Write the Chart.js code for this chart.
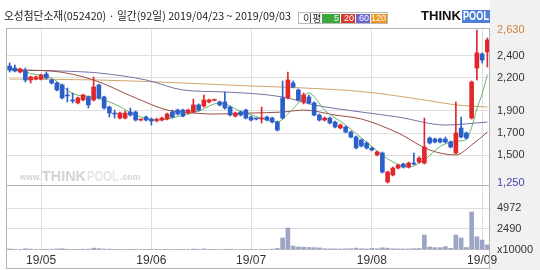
<!DOCTYPE html>
<html>
<head>
<meta charset="utf-8">
<script src="https://cdn.jsdelivr.net/npm/chart.js@4.4.0/dist/chart.umd.min.js"></script>
<style>
  html, body { margin: 0; padding: 0; background: #fff; }
  #stock { display: block; }
</style>
</head>
<body>
<canvas id="stock" width="540" height="270"></canvas>
<script>
// trading days 2019/04/23 ~ 2019/09/03 (92)
const dates = ['04/23','04/24','04/25','04/26','04/29','04/30',
  '05/02','05/03','05/07','05/08','05/09','05/10','05/13','05/14','05/15','05/16','05/17','05/20','05/21','05/22','05/23','05/24','05/27','05/28','05/29','05/30','05/31',
  '06/03','06/04','06/05','06/07','06/10','06/11','06/12','06/13','06/14','06/17','06/18','06/19','06/20','06/21','06/24','06/25','06/26','06/27','06/28',
  '07/01','07/02','07/03','07/04','07/05','07/08','07/09','07/10','07/11','07/12','07/15','07/16','07/17','07/18','07/19','07/22','07/23','07/24','07/25','07/26','07/29','07/30','07/31',
  '08/01','08/02','08/05','08/06','08/07','08/08','08/09','08/12','08/13','08/14','08/16','08/19','08/20','08/21','08/22','08/23','08/26','08/27','08/28','08/29','08/30',
  '09/02','09/03'];

const openP = [2305,2287,2251,2260,2179,2188,2188,2233,2179,2152,
  2134,2044,1999,1972,1999,2026,1999,2134,2026,1935,
  1876,1836,1836,1890,1890,1818,1845,1827,1814,1818,
  1827,1890,1908,1908,1881,1890,1954,1944,1981,1995,
  1981,1981,1935,1854,1890,1908,1845,1831,1827,1845,
  1836,1800,2017,2017,2152,2089,1981,2026,1972,1863,
  1818,1836,1800,1746,1755,1710,1665,1638,1611,1566,
  1503,1521,1259,1322,1385,1421,1394,1430,1439,1430,
  1656,1647,1647,1647,1620,1521,1746,1701,1836,2287,
  2414,2432];
const highP = [2332,2314,2287,2287,2215,2215,2233,2251,2188,2161,
  2143,2107,2062,2026,2053,2035,2206,2143,2035,1944,
  1908,1890,1899,1926,1899,1827,1854,1836,1836,1845,
  1881,1908,1917,1917,1917,2008,1963,2044,2008,2008,
  1990,2071,1944,1890,1899,1917,1854,1836,1935,1854,
  1845,1809,2170,2251,2170,2098,2062,2044,1981,1872,
  1845,1845,1809,1782,1764,1719,1674,1647,1620,1575,
  1539,1530,1358,1394,1421,1430,1439,1521,1485,1836,
  1665,1656,1656,1665,1629,1981,1845,1710,2170,2630,
  2423,2558];
const lowP = [2251,2251,2242,2161,2152,2179,2179,2188,2143,2080,
  2008,1981,1972,1963,1990,1926,1990,2008,1917,1845,
  1836,1827,1827,1854,1809,1809,1809,1773,1800,1809,
  1818,1836,1863,1845,1872,1881,1899,1935,1972,1990,
  1944,1917,1854,1845,1854,1827,1809,1818,1791,1809,
  1791,1719,1827,2008,2107,1990,1963,1963,1854,1809,
  1809,1782,1746,1737,1701,1656,1557,1575,1557,1539,
  1494,1340,1250,1313,1376,1385,1385,1412,1430,1421,
  1602,1611,1611,1611,1566,1512,1656,1647,1827,2179,
  2332,2296];
const closeP = [2269,2260,2278,2179,2206,2206,2224,2197,2152,2089,
  2017,2035,1990,2017,2044,1954,2116,2017,1926,1881,
  1872,1881,1881,1863,1818,1822,1818,1809,1818,1836,
  1872,1845,1872,1854,1908,1954,1908,1999,1999,1999,
  1954,1926,1863,1881,1863,1836,1818,1827,1831,1818,
  1800,1728,1836,2179,2116,1999,2044,1972,1863,1818,
  1836,1791,1755,1773,1710,1665,1566,1584,1566,1548,
  1530,1349,1349,1385,1412,1394,1430,1421,1475,1575,
  1611,1620,1620,1620,1575,1701,1665,1656,2161,2423,
  2359,2540];

// volume, x10000
const volume = [120,90,80,150,110,70,80,90,100,130,
  150,90,80,70,90,110,220,160,120,100,
  80,70,70,80,90,60,60,70,60,70,
  80,70,60,70,80,110,90,130,80,70,
  70,90,100,60,60,70,80,60,70,80,
  110,180,1420,2600,470,350,340,300,280,250,
  150,130,140,120,140,160,220,150,130,200,
  150,260,220,150,130,120,130,160,180,1775,
  350,280,280,400,200,1775,1420,300,4500,1560,
  1180,600];

// moving averages: [day index, price]
const ma5Pts = [[0,2290],[4,2238],[8,2197],[12,2057],[16,2024],[20,1962],[24,1863],[28,1817],[32,1849],[36,1899],[40,1972],[44,1897],[48,1835],[51,1801],[53,1872],[55,1972],[57,2062],[60,1907],[64,1773],[68,1618],[72,1468],[76,1394],[79,1459],[82,1580],[85,1627],[87,1643],[88,1752],[89,1921],[90,2053],[91,2228]];
const ma20Pts = [[0,2280],[2,2269],[8,2260],[16,2179],[24,2017],[30,1908],[33,1890],[39,1872],[46,1881],[52,1890],[56,1908],[62,1863],[67,1827],[74,1701],[80,1548],[85,1503],[88,1593],[91,1710]];
const ma60Pts = [[0,2269],[10,2260],[17,2242],[26,2179],[33,2089],[41,2071],[52,2026],[58,1954],[67,1890],[74,1845],[83,1773],[91,1800]];
const ma120Pts = [[0,2188],[17,2179],[33,2152],[46,2125],[56,2107],[67,2075],[79,1999],[85,1954],[91,1935]];

const priceTicks = [1250, 1500, 1700, 1900, 2200, 2400, 2630];
const volTicks = [0, 2490, 4972];
const monthDays = ['05/02', '06/03', '07/01', '08/01', '09/02'];
const monthLabels = ['19/05', '19/06', '19/07', '19/08', '19/09'];

const UP = '#e0282c';
const DOWN = '#2c5fc8';
const GRID = '#dedede';
const FONT = "'Liberation Sans', Arial, sans-serif";

const candleColors = openP.map((o, i) => closeP[i] >= o ? UP : DOWN);

function fromPts(pts) {
  const arr = dates.map(() => null);
  pts.forEach(([i, v]) => { arr[i] = v; });
  return arr;
}

function maLine(label, pts, color) {
  return {
    type: 'line', label: label, data: fromPts(pts), yAxisID: 'y',
    borderColor: color, borderWidth: 1, pointRadius: 0, spanGaps: true,
    cubicInterpolationMode: 'monotone', order: 5
  };
}

function priceColor(v) {
  if (v === 2630) return '#d4843a';
  if (v === 1250) return '#4848a8';
  return '#333333';
}

// draw text squeezed to a given width
function fitText(c, text, x, y, maxW) {
  const w = c.measureText(text).width;
  const sx = maxW / w;
  c.save();
  c.translate(x, y);
  c.scale(sx, 1);
  c.fillText(text, 0, 0);
  c.restore();
}

const frame = {
  id: 'frame',
  beforeDraw(chart) {
    const c = chart.ctx;
    c.save();
    c.fillStyle = '#fff';
    c.fillRect(0, 0, 540, 270);
    c.fillStyle = '#f1f1f1';
    c.fillRect(490, 0, 50, 270);

    // title
    c.font = "11px 'Noto Sans CJK KR'";
    c.fillStyle = '#222';
    c.textBaseline = 'middle';
    fitText(c, '오성첨단소재(052420) · 일간(92일) 2019/04/23 ~ 2019/09/03', 4, 16, 287);

    // moving average legend
    c.strokeStyle = '#b8b8b8';
    c.fillStyle = '#fff';
    c.fillRect(298.5, 12.5, 89, 11);
    c.strokeRect(298.5, 12.5, 89, 11);
    c.fillStyle = '#333';
    c.font = "10px 'Noto Sans CJK KR'";
    c.fillText('이평', 303, 18);
    const boxes = [['5', '#3ca83c', 322, 18], ['20', '#d83a30', 341, 14], ['60', '#6868d0', 356, 14], ['120', '#e8961e', 371, 16]];
    c.font = '9px ' + FONT;
    c.textAlign = 'right';
    boxes.forEach(([t, col, x, w]) => {
      c.fillStyle = col;
      c.fillRect(x, 14, w, 9);
      c.fillStyle = '#fff';
      c.fillText(t, x + w - 1, 18.5);
    });
    c.textAlign = 'left';

    // logo
    c.font = 'bold 12px ' + FONT;
    c.fillStyle = '#111';
    fitText(c, 'THINK', 421, 17, 40);
    c.fillStyle = '#4f80d6';
    c.fillRect(462, 10, 28, 13);
    c.fillStyle = '#fff';
    fitText(c, 'POOL', 463, 17, 26);

    // watermark
    c.fillStyle = '#d2d2d2';
    c.font = 'bold 9px ' + FONT;
    fitText(c, 'www.', 20, 178, 21);
    c.font = 'bold 14px ' + FONT;
    fitText(c, 'THINK', 42, 177, 44);
    c.fillStyle = '#e6e6e6';
    fitText(c, 'POOL', 87, 177, 32);
    c.fillStyle = '#d2d2d2';
    c.font = 'bold 9px ' + FONT;
    fitText(c, '.com', 120, 178, 20);
    c.restore();
  },
  afterDraw(chart) {
    const c = chart.ctx;
    const a = chart.chartArea;
    const s = chart.scales.y;
    const sep = s.bottom;
    c.save();
    c.strokeStyle = '#b4b4b4';
    c.lineWidth = 1;
    c.beginPath();
    c.moveTo(6.5, a.top); c.lineTo(6.5, 269);
    c.moveTo(6, a.top + 0.5); c.lineTo(490, a.top + 0.5);
    c.moveTo(489.5, a.top); c.lineTo(489.5, 269);
    c.moveTo(6, 268.5); c.lineTo(490, 268.5);
    c.moveTo(6, Math.round(sep) + 0.5); c.lineTo(490, Math.round(sep) + 0.5);
    c.stroke();
    c.setLineDash([2, 2]);
    c.beginPath();
    c.moveTo(7, Math.round(a.bottom) - 0.5); c.lineTo(489, Math.round(a.bottom) - 0.5);
    c.stroke();
    c.setLineDash([]);

    // price labels, placed from the price scale
    c.font = '11px ' + FONT;
    c.textBaseline = 'middle';
    c.textAlign = 'left';
    s.ticks.forEach(t => {
      c.fillStyle = priceColor(t.value);
      c.fillText(t.value.toLocaleString('en-US'), s.left + 7, s.getPixelForValue(t.value));
    });
    c.restore();
  }
};

new Chart(document.getElementById('stock').getContext('2d'), {
  data: {
    labels: dates,
    datasets: [
      { type: 'bar', label: 'body', data: openP.map((o, i) => [o, closeP[i]]), yAxisID: 'y',
        backgroundColor: candleColors, barThickness: 4, grouped: false, minBarLength: 1, order: 1 },
      { type: 'bar', label: 'wick', data: lowP.map((l, i) => [l, highP[i]]), yAxisID: 'y',
        backgroundColor: candleColors, barThickness: 1, grouped: false, order: 2 },
      maLine('5', ma5Pts, '#6cb46c'),
      maLine('20', ma20Pts, '#9a4e42'),
      maLine('60', ma60Pts, '#7a72a8'),
      maLine('120', ma120Pts, '#d2a468'),
      { type: 'bar', label: 'volume', data: volume, yAxisID: 'yv',
        backgroundColor: '#9ca6c4', barThickness: 4, grouped: false, order: 6 }
    ]
  },
  options: {
    responsive: false,
    animation: false,
    devicePixelRatio: 1,
    layout: { padding: { top: 28, left: 7, right: 0, bottom: 0 } },
    plugins: { legend: { display: false }, tooltip: { enabled: false } },
    scales: {
      x: {
        type: 'category',
        offset: true,
        border: { display: false },
        grid: {
          offset: false, drawTicks: false,
          color: ctx => monthDays.includes(dates[ctx.index]) ? GRID : 'rgba(0,0,0,0)'
        },
        ticks: {
          autoSkip: false, maxRotation: 0, padding: 3, color: '#333',
          font: { family: FONT, size: 12 },
          callback: (v, i) => {
            const k = monthDays.indexOf(dates[i]);
            return k >= 0 ? monthLabels[k] : '';
          }
        },
        afterFit: s => { s.height = 20; }
      },
      y: {
        position: 'right', stack: 'panes', stackWeight: 157,
        min: 1232, max: 2648,
        border: { display: false },
        afterBuildTicks: s => { s.ticks = priceTicks.map(v => ({ value: v })); },
        grid: {
          drawTicks: false,
          color: ctx => (ctx.tick && (ctx.tick.value === 2630 || ctx.tick.value === 1250)) ? 'rgba(0,0,0,0)' : GRID
        },
        // labels are written by the frame plugin
        ticks: { autoSkip: false, padding: 7, color: 'rgba(0,0,0,0)', font: { family: FONT, size: 11 } },
        afterFit: s => { s.width = 50; }
      },
      yv: {
        position: 'right', stack: 'panes', stackWeight: 65,
        min: 0, max: 7695,
        border: { display: false },
        afterBuildTicks: s => { s.ticks = volTicks.map(v => ({ value: v })); },
        grid: { drawTicks: false, color: ctx => (ctx.tick && ctx.tick.value === 0) ? 'rgba(0,0,0,0)' : GRID },
        ticks: {
          autoSkip: false, padding: 7, color: '#333', font: { family: FONT, size: 11 },
          callback: v => v === 0 ? 'x10000' : String(v)
        },
        afterFit: s => { s.width = 50; }
      }
    }
  },
  plugins: [frame]
});
</script>
</body>
</html>
